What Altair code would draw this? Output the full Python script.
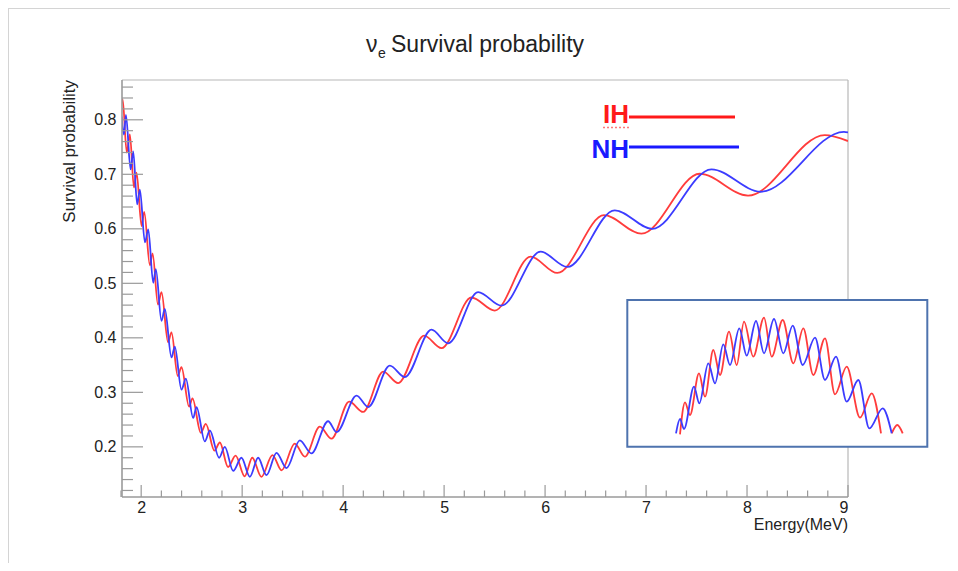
import altair as alt
import pandas as pd

# ---------------- data ----------------
series_names = ["IH", "NH"]
series_colors = ["#ff3c3c", "#3c3cff"]

# main curves: local extrema (energy in MeV, survival probability)
nh_energy = [1.806, 1.829, 1.849, 1.895, 1.921, 1.960, 1.987, 2.037, 2.070, 2.119, 2.145,
             2.201, 2.234, 2.300, 2.333, 2.399, 2.442, 2.515, 2.548, 2.630, 2.680, 2.772,
             2.828, 2.911, 2.993, 3.076, 3.158, 3.241, 3.340, 3.439, 3.571, 3.686, 3.851,
             3.935, 4.133, 4.248, 4.462, 4.611, 4.875, 5.040, 5.337, 5.568, 5.956, 6.220,
             6.690, 7.060, 7.648, 8.135, 8.960, 9.0]
nh_prob = [0.806, 0.773, 0.809, 0.709, 0.742, 0.645, 0.672, 0.575, 0.599, 0.501, 0.526,
           0.431, 0.453, 0.364, 0.384, 0.305, 0.325, 0.253, 0.273, 0.210, 0.230, 0.180,
           0.200, 0.156, 0.180, 0.145, 0.180, 0.148, 0.189, 0.161, 0.212, 0.188, 0.247,
           0.227, 0.294, 0.273, 0.349, 0.328, 0.415, 0.390, 0.484, 0.459, 0.558, 0.530,
           0.634, 0.600, 0.709, 0.668, 0.778, 0.777]

ih_energy = [1.806, 1.816, 1.857, 1.888, 1.928, 1.954, 2.004, 2.030, 2.086, 2.113, 2.166,
             2.201, 2.266, 2.300, 2.362, 2.399, 2.474, 2.508, 2.590, 2.640, 2.725, 2.779,
             2.860, 2.935, 3.025, 3.100, 3.190, 3.300, 3.390, 3.521, 3.621, 3.769, 3.885,
             4.060, 4.198, 4.397, 4.545, 4.802, 4.974, 5.271, 5.502, 5.857, 6.121, 6.584,
             6.954, 7.532, 8.010, 8.770, 9.0]
ih_prob = [0.830, 0.838, 0.740, 0.773, 0.676, 0.703, 0.605, 0.631, 0.533, 0.555, 0.461,
           0.484, 0.392, 0.410, 0.330, 0.346, 0.274, 0.289, 0.226, 0.242, 0.193, 0.208,
           0.163, 0.184, 0.146, 0.180, 0.145, 0.185, 0.157, 0.206, 0.182, 0.237, 0.215,
           0.283, 0.264, 0.338, 0.317, 0.404, 0.381, 0.474, 0.450, 0.549, 0.519, 0.625,
           0.591, 0.701, 0.661, 0.772, 0.761]

# inset curves (arbitrary units)
inset_nh_u = [48.7, 52.7, 56.7, 66.7, 72.0, 81.0, 87.7, 96.0, 102.7, 112.0, 119.4, 128.7,
              136.7, 146.7, 156.0, 165.4, 175.4, 187.7, 197.7, 208.7, 219.4, 231.0, 242.0,
              255.4, 264.4]
inset_nh_v = [13.4, 27.7, 17.7, 60.0, 43.4, 83.4, 63.4, 102.4, 81.7, 118.4, 91.0, 125.7,
              93.4, 127.7, 93.4, 121.0, 81.7, 109.0, 66.7, 90.0, 45.0, 66.7, 18.4, 38.4, 13.4]
inset_ih_u = [52.7, 57.7, 62.7, 71.7, 77.7, 86.0, 92.7, 101.7, 109.4, 116.7, 126.0, 136.7,
              144.4, 155.4, 166.0, 176.0, 186.0, 197.7, 207.7, 219.4, 232.7, 244.4, 253.7]
inset_ih_v = [12.4, 44.4, 31.7, 73.4, 50.0, 96.7, 71.7, 115.0, 81.7, 125.0, 90.0, 129.0,
              90.0, 126.7, 83.4, 118.4, 71.7, 108.4, 52.4, 80.0, 29.0, 53.4, 13.4]
inset_ih2_u = [264.4, 270.0, 275.4]
inset_ih2_v = [13.4, 21.7, 13.4]

# axis ticks and labels
x_major = [2, 3, 4, 5, 6, 7, 8, 9]
x_minor = [1.8, 2.2, 2.4, 2.6, 2.8, 3.2, 3.4, 3.6, 3.8, 4.2, 4.4, 4.6, 4.8, 5.2, 5.4, 5.6,
           5.8, 6.2, 6.4, 6.6, 6.8, 7.2, 7.4, 7.6, 7.8, 8.2, 8.4, 8.6, 8.8]
y_major = [0.2, 0.3, 0.4, 0.5, 0.6, 0.7, 0.8]
y_minor = [0.12, 0.14, 0.16, 0.18, 0.22, 0.24, 0.26, 0.28, 0.32, 0.34, 0.36, 0.38, 0.42,
           0.44, 0.46, 0.48, 0.52, 0.54, 0.56, 0.58, 0.62, 0.64, 0.66, 0.68, 0.72, 0.74,
           0.76, 0.78, 0.82, 0.84, 0.86]

# ---------------- layout ----------------
W, H = 726, 417
XDOM = [1.81, 9.0]
YDOM = [0.108, 0.873]
FONT = "Liberation Sans"
AXC = "#9a9a9a"

main_df = pd.concat([
    pd.DataFrame({"E": ih_energy, "P": ih_prob, "series": "IH"}),
    pd.DataFrame({"E": nh_energy, "P": nh_prob, "series": "NH"}),
])
inset_df = pd.concat([
    pd.DataFrame({"u": inset_ih_u, "v": inset_ih_v, "series": "IH", "seg": "a"}),
    pd.DataFrame({"u": inset_ih2_u, "v": inset_ih2_v, "series": "IH", "seg": "b"}),
    pd.DataFrame({"u": inset_nh_u, "v": inset_nh_v, "series": "NH", "seg": "a"}),
])
one = pd.DataFrame({"k": [0]})

xs = alt.Scale(domain=XDOM, nice=False, zero=False)
ys = alt.Scale(domain=YDOM, nice=False, zero=False)
cs = alt.Scale(domain=series_names, range=series_colors)


def rule(x, x2, y, y2=None, color=AXC, w=1.0, dash=None):
    enc = dict(x=alt.value(x), y=alt.value(y))
    if x2 is not None:
        enc["x2"] = alt.value(x2)
    if y2 is not None:
        enc["y2"] = alt.value(y2)
    kw = dict(color=color, strokeWidth=w)
    if dash is not None:
        kw["strokeDash"] = dash
    return alt.Chart(one).mark_rule(**kw).encode(**enc)


def text(t, x, y, size, color="#222", align="left", baseline="alphabetic", angle=0,
         weight="normal"):
    return alt.Chart(one).mark_text(
        text=t, font=FONT, fontSize=size, color=color, align=align, baseline=baseline,
        angle=angle, fontWeight=weight
    ).encode(x=alt.value(x), y=alt.value(y))


# outer screenshot border
outer_top = rule(-114, 828, -71.5, color="#d4d4d4")
outer_left = rule(-113.5, None, -72, 483, color="#d4d4d4")

# frame
frame_top = rule(0, W, 0, color="#b8b8b8", w=1.2)
frame_right = rule(W, None, 0, H, color="#b8b8b8", w=1.2)
frame_left = rule(0, None, 0, H, color=AXC, w=1.6)
frame_bottom = rule(0, W, H, color=AXC, w=1.6)

lines = alt.Chart(main_df).mark_line(interpolate="monotone", strokeWidth=1.8, clip=True).encode(
    x=alt.X("E:Q", scale=xs, axis=alt.Axis(
        values=x_major, format="d", title=None, ticks=False, tickSize=0, domain=False,
        grid=False, labelFont=FONT, labelFontSize=16, labelColor="#222", labelPadding=2)),
    y=alt.Y("P:Q", scale=ys, axis=alt.Axis(
        values=y_major, format=".1f", title=None, ticks=False, tickSize=0, domain=False,
        grid=False, labelFont=FONT, labelFontSize=16, labelColor="#222", labelPadding=6)),
    color=alt.Color("series:N", scale=cs, legend=None),
)

xmaj = alt.Chart(pd.DataFrame({"t": x_major})).mark_rule(color=AXC, strokeWidth=1.2).encode(
    x=alt.X("t:Q", scale=xs, axis=None), y=alt.value(H), y2=alt.value(H - 12))
xmin = alt.Chart(pd.DataFrame({"t": x_minor})).mark_rule(color=AXC, strokeWidth=1.2).encode(
    x=alt.X("t:Q", scale=xs, axis=None), y=alt.value(H), y2=alt.value(H - 6.5))
ymaj = alt.Chart(pd.DataFrame({"t": y_major})).mark_rule(color=AXC, strokeWidth=1.2).encode(
    y=alt.Y("t:Q", scale=ys, axis=None), x=alt.value(0), x2=alt.value(21))
ymin = alt.Chart(pd.DataFrame({"t": y_minor})).mark_rule(color=AXC, strokeWidth=1.2).encode(
    y=alt.Y("t:Q", scale=ys, axis=None), x=alt.value(0), x2=alt.value(11))

# inset
IX0, IX1, IY0, IY1 = 505.3, 805.3, 220.0, 366.7
inset_box = alt.Chart(one).mark_rect(fill="white", stroke="#4e73ae", strokeWidth=2).encode(
    x=alt.value(IX0), x2=alt.value(IX1), y=alt.value(IY0), y2=alt.value(IY1))
inset_lines = alt.Chart(inset_df).mark_line(interpolate="monotone", strokeWidth=1.8).encode(
    x=alt.X("u:Q", scale=alt.Scale(domain=[0, 300], range=[IX0, IX1], nice=False, zero=False),
            axis=None),
    y=alt.Y("v:Q", scale=alt.Scale(domain=[0, 146.7], range=[IY1, IY0], nice=False, zero=False),
            axis=None),
    color=alt.Color("series:N", scale=cs, legend=None),
    detail="seg:N",
)

# legend
leg_ih_line = rule(507, 613, 37, color="#ff1a1a", w=3)
leg_nh_line = rule(507, 617, 67, color="#1a1aff", w=3)
leg_ih_txt = text(series_names[0], 507, 43, 26, color="#ff1a1a", align="right", weight="bold")
leg_nh_txt = text(series_names[1], 507, 78, 26, color="#1a1aff", align="right", weight="bold")
leg_ih_wave = rule(481, 508, 47.5, color="#ff7a7a", w=1.5, dash=[2, 2])

# titles
t_nu = text("\u03bd", 244, -28, 23)
t_e = text("e", 256, -22, 14)
t_main = text("Survival probability", 269, -28, 23)
t_x = text("Energy(MeV)", W, 450, 16, align="right")
t_y = text("Survival probability", -52, 0, 17, align="right", baseline="middle", angle=270)

chart = alt.layer(
    outer_top, outer_left, frame_top, frame_right, lines, xmaj, xmin, ymaj, ymin,
    frame_left, frame_bottom, inset_box, inset_lines,
    leg_ih_line, leg_nh_line, leg_ih_txt, leg_nh_txt, leg_ih_wave,
    t_nu, t_e, t_main, t_x, t_y,
).resolve_scale(
    x="independent", y="independent", color="independent"
).properties(
    width=W, height=H,
    padding={"left": 114, "top": 72, "right": 102, "bottom": 66},
    autosize=alt.AutoSizeParams(type="none"),
    background="white",
).configure_view(stroke=None)

chart.save("out.html", embed_options={"renderer": "svg", "actions": False})
